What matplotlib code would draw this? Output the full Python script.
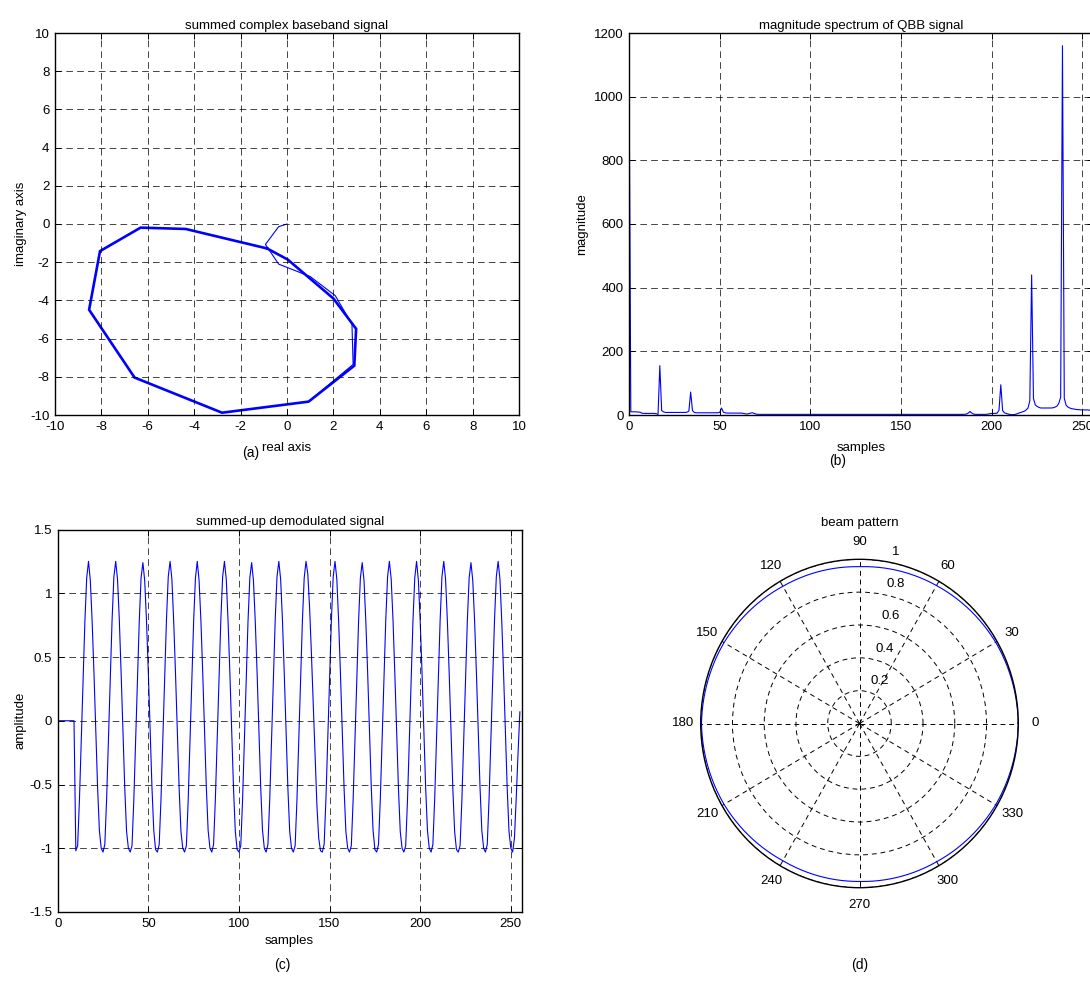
import numpy as np
import matplotlib
matplotlib.use("Agg")
import matplotlib.pyplot as plt
from matplotlib import transforms

plt.rcParams['font.family'] = ['Liberation Sans', 'DejaVu Sans']
plt.rcParams['axes.unicode_minus'] = False
FS = 9.5

# ---------------- data ----------------
# (a) summed complex baseband signal: first pass (thin) and steady loop (thick)
trans_re = [0.0, -0.36, -0.93, -0.36, 1.0, 2.08, 2.8, 2.85, 0.93]
trans_im = [0.0, -0.14, -1.07, -2.10, -2.75, -3.75, -5.25, -7.35, -9.30]
loop_re = [-0.86, 0.03, 2.00, 2.98, 2.90, 0.93, -2.80, -6.57, -8.53, -8.06, -6.31, -4.37, -0.86]
loop_im = [-1.28, -1.86, -3.90, -5.49, -7.42, -9.30, -9.88, -8.04, -4.49, -1.42, -0.19, -0.26, -1.28]

# (b) magnitude spectrum of QBB signal (bins 0..255)
spectrum = [
    1125, 10, 10, 10, 10, 9, 9, 6, 5, 5, 5, 5, 5, 5, 5, 4,
    2, 155, 14, 10, 8, 8, 8, 8, 8, 8, 8, 8, 8, 8, 8, 8,
    9, 12, 72, 14, 8, 7, 7, 7, 7, 7, 7, 7, 7, 7, 7, 7,
    7, 7, 8, 22, 9, 7, 6, 6, 6, 6, 6, 6, 6, 6, 6, 5,
    4, 3, 4, 6, 7, 5, 3, 2, 2, 2, 2, 2, 2, 2, 2, 2,
    2, 2, 2, 2, 2, 2, 2, 2, 2, 2, 2, 2, 2, 2, 2, 2,
    2, 2, 2, 2, 2, 2, 2, 2, 2, 2, 2, 2, 2, 2, 2, 2,
    2, 2, 2, 2, 2, 2, 2, 2, 2, 2, 2, 2, 2, 2, 2, 2,
    2, 2, 2, 2, 2, 2, 2, 2, 2, 2, 2, 2, 2, 2, 2, 2,
    2, 2, 2, 2, 2, 2, 2, 2, 2, 2, 2, 2, 2, 2, 2, 2,
    2, 2, 2, 2, 2, 2, 2, 2, 2, 2, 2, 2, 2, 2, 2, 2,
    2, 2, 2, 2, 2, 2, 2, 2, 2, 2, 3, 6, 11, 6, 3, 2,
    2, 2, 2, 2, 2, 2, 3, 4, 5, 5, 5, 6, 15, 95, 14, 7,
    5, 3, 2, 1, 1, 2, 4, 6, 8, 10, 12, 16, 22, 45, 440, 52,
    32, 27, 24, 22, 22, 22, 22, 22, 22, 22, 23, 25, 28, 37, 56, 1160,
    52, 31, 25, 22, 20, 19, 18, 17, 17, 16, 16, 16, 16, 16, 15, 15,
]

# (c) summed-up demodulated signal (samples 0..255)
demod = [
    0.0, 0.0, 0.0, 0.0, 0.0, 0.0, 0.0, 0.0, 0.0, 0.0,
    -1.02, -0.98, -0.62, -0.15, 0.32, 0.78, 1.12, 1.25, 1.10, 0.78, 0.38, -0.08, -0.52, -0.86, -1.00,
    -1.03, -0.97, -0.61, -0.14, 0.33, 0.79, 1.13, 1.25, 1.11, 0.79, 0.37, -0.09, -0.53, -0.87, -1.00,
    -1.03, -0.98, -0.62, -0.15, 0.32, 0.78, 1.12, 1.24, 1.10, 0.78, 0.38, -0.08, -0.52, -0.86, -1.01,
    -1.03, -0.97, -0.61, -0.14, 0.33, 0.79, 1.13, 1.25, 1.11, 0.78, 0.37, -0.09, -0.53, -0.87, -1.00,
    -1.03, -0.98, -0.62, -0.15, 0.32, 0.78, 1.12, 1.25, 1.10, 0.79, 0.38, -0.08, -0.52, -0.86, -1.00,
    -1.03, -0.97, -0.61, -0.14, 0.33, 0.79, 1.13, 1.25, 1.11, 0.78, 0.37, -0.09, -0.53, -0.87, -1.01,
    -1.03, -0.98, -0.62, -0.15, 0.32, 0.78, 1.12, 1.24, 1.10, 0.78, 0.38, -0.08, -0.52, -0.86, -1.00,
    -1.03, -0.97, -0.61, -0.14, 0.33, 0.79, 1.13, 1.25, 1.11, 0.79, 0.37, -0.09, -0.53, -0.87, -1.00,
    -1.03, -0.98, -0.62, -0.15, 0.32, 0.78, 1.12, 1.25, 1.15, 0.88, 0.52, 0.12, -0.30, -0.66, -0.92, -1.02,
    -1.03, -0.97, -0.61, -0.14, 0.33, 0.79, 1.13, 1.25, 1.11, 0.78, 0.37, -0.09, -0.53, -0.87, -1.00,
    -1.03, -0.98, -0.62, -0.15, 0.32, 0.78, 1.12, 1.24, 1.10, 0.78, 0.38, -0.08, -0.52, -0.86, -1.01,
    -1.03, -0.97, -0.61, -0.14, 0.33, 0.79, 1.13, 1.25, 1.11, 0.79, 0.37, -0.09, -0.53, -0.87, -1.00,
    -1.03, -0.98, -0.62, -0.15, 0.32, 0.78, 1.12, 1.25, 1.10, 0.78, 0.38, -0.08, -0.52, -0.86, -1.00,
    -1.03, -0.97, -0.61, -0.14, 0.33, 0.79, 1.13, 1.25, 1.11, 0.78, 0.37, -0.09, -0.53, -0.87, -1.01,
    -1.03, -0.98, -0.62, -0.15, 0.32, 0.78, 1.12, 1.24, 1.10, 0.79, 0.38, -0.08, -0.52, -0.86, -1.00,
    -1.03, -0.97, -0.61, -0.14, 0.33, 0.79, 1.13, 1.25, 1.11, 0.78, 0.37, -0.09, -0.53, -0.87, -1.00,
    -1.03, -0.92, -0.60, -0.25, 0.07,
]

# (d) beam pattern
beam_deg = [0, 30, 60, 90, 120, 150, 180, 210, 240, 270, 300, 330, 360]
beam_r = [1.0, 0.99, 0.97, 0.955, 0.965, 0.985, 0.995, 0.985, 0.965, 0.962, 0.972, 0.99, 1.0]

xt_a = [-10, -8, -6, -4, -2, 0, 2, 4, 6, 8, 10]
yt_a = [-10, -8, -6, -4, -2, 0, 2, 4, 6, 8, 10]
xt_b = [0, 50, 100, 150, 200, 250]
yt_b = [0, 200, 400, 600, 800, 1000, 1200]
xt_c = [0, 50, 100, 150, 200, 250]
yt_c = [-1.5, -1, -0.5, 0, 0.5, 1, 1.5]
yl_c = ['-1.5', '-1', '-0.5', '0', '0.5', '1', '1.5']
r_ticks = [0.2, 0.4, 0.6, 0.8, 1.0]
r_labels = ['0.2', '0.4', '0.6', '0.8', '1']

# ---------------- figure ----------------
W, H = 1090, 993
fig = plt.figure(figsize=(W / 100, H / 100), dpi=100)

def px_axes(l, t, r, b, **kw):
    return fig.add_axes([l / W, 1 - b / H, (r - l) / W, (b - t) / H], **kw)

GRID = dict(color='black', linestyle=(0, (8, 5)), linewidth=0.6, alpha=0.85)
BLUE = (0, 0, 1)

def style(ax):
    ax.grid(True, **GRID)
    ax.set_axisbelow(False)
    ax.tick_params(direction='in', length=4, width=0.7, top=True, right=True,
                   labelsize=FS, pad=4, colors='black')
    for s in ax.spines.values():
        s.set_linewidth(1.0)
        s.set_color('black')

# (a)
axa = px_axes(55, 33, 519, 415)
axa.plot(trans_re, trans_im, color=BLUE, lw=0.8)
axa.plot(loop_re, loop_im, color=BLUE, lw=1.9, solid_joinstyle='miter')
axa.set_xlim(-10, 10)
axa.set_ylim(-10, 10)
axa.set_xticks(xt_a)
axa.set_yticks(yt_a)
style(axa)
axa.set_title('summed complex baseband signal', fontsize=FS, pad=3)
axa.set_xlabel('real axis', fontsize=FS, labelpad=7)
axa.set_ylabel('imaginary axis', fontsize=FS, labelpad=2)

# (b)
axb = px_axes(629, 33, 629 + 464.3, 415)
axb.plot(np.arange(len(spectrum)), spectrum, color=BLUE, lw=0.8)
axb.set_xlim(0, 256)
axb.set_ylim(0, 1200)
axb.set_xticks(xt_b)
axb.set_yticks(yt_b)
style(axb)
axb.set_title('magnitude spectrum of QBB signal', fontsize=FS, pad=3)
axb.set_xlabel('samples', fontsize=FS, labelpad=7)
axb.set_ylabel('magnitude', fontsize=FS, labelpad=4)

# (c)
axc = px_axes(57.7, 529.5, 521.7, 912)
axc.plot(np.arange(len(demod)), demod, color=BLUE, lw=0.8)
axc.set_xlim(0, 256)
axc.set_ylim(-1.5, 1.5)
axc.set_xticks(xt_c)
axc.set_yticks(yt_c)
axc.set_yticklabels(yl_c)
style(axc)
axc.set_title('summed-up demodulated signal', fontsize=FS, pad=3)
axc.set_xlabel('samples', fontsize=FS, labelpad=4)
axc.set_ylabel('amplitude', fontsize=FS, labelpad=2)

# (d) polar
axd = px_axes(700.7, 559.3, 1018.3, 887.7, projection='polar')
axd.set_aspect('auto')
beam_line, = axd.plot(np.deg2rad(beam_deg), beam_r, color=BLUE, lw=0.8)
beam_line.get_path()._interpolation_steps = 40
axd.set_ylim(0, 1)
axd.set_rgrids(r_ticks, labels=[''] * len(r_ticks))
axd.set_thetagrids(range(0, 360, 30), labels=[str(a) for a in range(0, 360, 30)])
axd.grid(True, color='black', linestyle=(0, (5, 4)), linewidth=0.7)
axd.spines['polar'].set_linewidth(1.0)
axd.spines['polar'].set_color('black')
axd.tick_params(axis='x', labelsize=FS, pad=2)
off = transforms.offset_copy(axd.transData, fig=fig, x=5, y=10, units='dots')
for rv, lab in zip(r_ticks, r_labels):
    axd.text(np.deg2rad(80), rv, lab, transform=off, fontsize=FS,
             ha='left', va='center')
axd.set_title('beam pattern', fontsize=FS, pad=7)

# captions
for txt, x, y in [('(a)', 251, 453), ('(b)', 838, 461), ('(c)', 282, 965), ('(d)', 860, 965)]:
    fig.text(x / W, 1 - y / H, txt, fontsize=10, ha='center', va='center')

fig.savefig('out.png', dpi=100)
